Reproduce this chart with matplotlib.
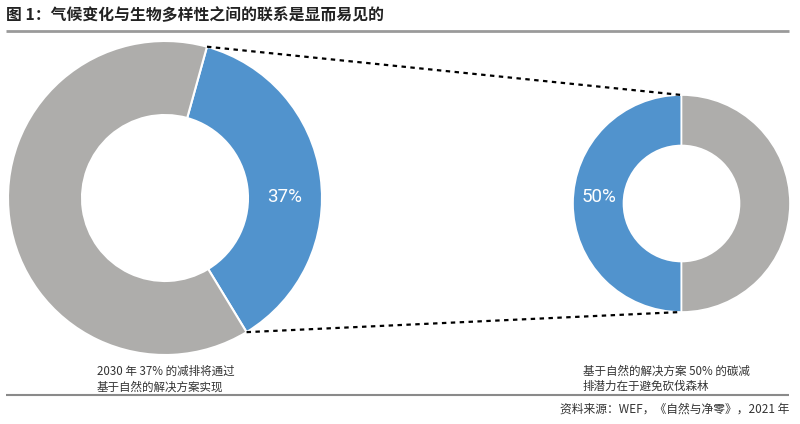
import matplotlib
matplotlib.use("Agg")
import matplotlib.pyplot as plt
import numpy as np

plt.rcParams['font.family'] = ['Noto Sans CJK SC', 'DejaVu Sans']

# ---- data ----
title = "图 1：气候变化与生物多样性之间的联系是显而易见的"
left_values = [37, 63]          # share achieved via nature-based solutions
right_values = [50, 50]         # share from avoided deforestation
left_label = "37%"
right_label = "50%"
left_caption = "2030 年 37% 的减排将通过\n基于自然的解决方案实现"
right_caption = "基于自然的解决方案 50% 的碳减\n排潜力在于避免砍伐森林"
source = "资料来源：WEF，《自然与净零》，2021 年"

BLUE = "#5193CD"
GRAY = "#AEADAB"
H = 424

fig = plt.figure(figsize=(8, 4.24), dpi=100)
ax = fig.add_axes([0, 0, 1, 1])
ax.set_xlim(0, 800)
ax.set_ylim(0, H)
ax.set_aspect('equal')
ax.axis('off')

# left donut
lc = (165, H - 198)
lr = 157
lstart = 74.5
ax.pie(left_values, colors=[BLUE, GRAY], center=lc, radius=lr,
       startangle=lstart, counterclock=False,
       wedgeprops=dict(width=74, edgecolor='white', linewidth=1.5))

# right donut
rc = (681.5, H - 203.5)
rr = 108.5
ax.pie(right_values, colors=[BLUE, GRAY], center=rc, radius=rr,
       startangle=90, counterclock=True,
       wedgeprops=dict(width=50.5, edgecolor='white', linewidth=1.2))
ax.set_xlim(0, 800)
ax.set_ylim(0, H)
ax.axis('off')

# connecting dotted lines
frac = left_values[0] / sum(left_values)
a0 = np.deg2rad(lstart)
a1 = np.deg2rad(lstart - 360 * frac)
p0 = (lc[0] + lr * np.cos(a0), lc[1] + lr * np.sin(a0))
p1 = (lc[0] + lr * np.cos(a1), lc[1] + lr * np.sin(a1))
ax.plot([p0[0], rc[0]], [p0[1], rc[1] + rr], color='black', lw=1.6,
        linestyle=(0, (2, 2)))
ax.plot([p1[0], rc[0]], [p1[1], rc[1] - rr], color='black', lw=1.6,
        linestyle=(0, (2, 2)))

# percent labels
ax.text(285, H - 197, left_label, color='white', fontsize=13.5,
        ha='center', va='center', family=['Roboto', 'DejaVu Sans'])
ax.text(599, H - 197, right_label, color='white', fontsize=13.5,
        ha='center', va='center', family=['Roboto', 'DejaVu Sans'])

# title and rules
ax.text(6, H - 14, title, fontsize=11.4, fontweight='bold', color='#222222',
        ha='left', va='center')
ax.plot([6, 789], [H - 31, H - 31], color='#9a9a9a', lw=2, solid_capstyle='butt')
ax.plot([6, 789], [H - 395, H - 395], color='#8a8a8a', lw=1.5, solid_capstyle='butt')

# captions
ax.text(97, H - 379, left_caption, fontsize=8.3, color='#333333',
        ha='left', va='center', linespacing=1.25)
ax.text(583, H - 379, right_caption, fontsize=8.3, color='#333333',
        ha='left', va='center', linespacing=1.25)
ax.text(789, H - 409, source, fontsize=8.5, color='#333333',
        ha='right', va='center')

fig.savefig("out.png", dpi=100)
